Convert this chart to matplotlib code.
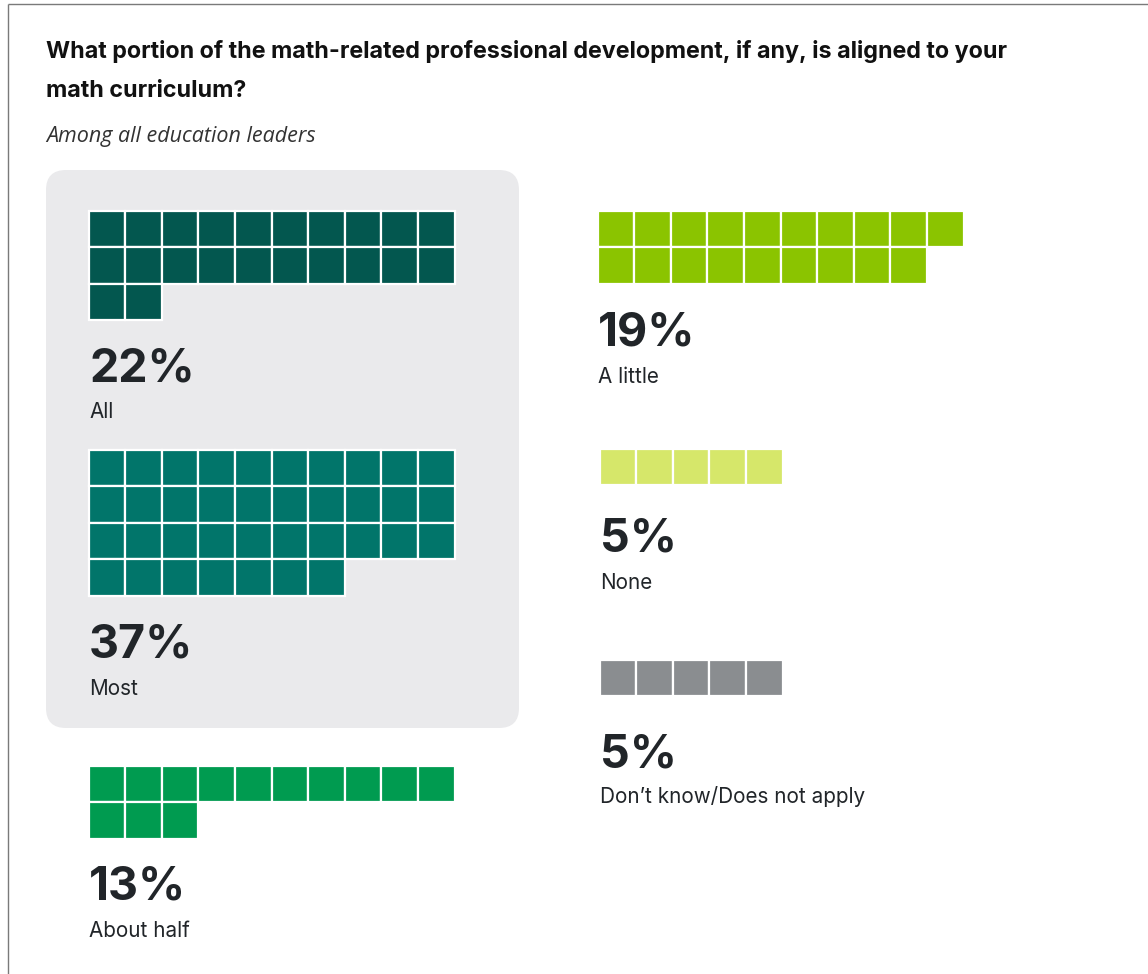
import matplotlib
matplotlib.use("Agg")
import matplotlib.pyplot as plt
from matplotlib.patches import Rectangle, FancyBboxPatch

# ---- data ----
categories = ["All", "Most", "About half", "A little", "None", "Don’t know/Does not apply"]
values = [22, 37, 13, 19, 5, 5]
colors = ["#03574F", "#01756A", "#009B50", "#8BC400", "#D6E76A", "#8A8D90"]
title_lines = ["What portion of the math-related professional development, if any, is aligned to your",
               "math curriculum?"]
subtitle = "Among all education leaders"

# ---- layout (pixel space) ----
W, H = 1148, 974
per_row = 10
pitch = 36.6
# (x of first square, y top of squares, percent baseline, label baseline)
anchors = [
    (88.5, 210.5, 381, 418),
    (88.5, 449.5, 657, 695),
    (88.5, 765.5, 900, 937),
    (597.5, 210.5, 346, 383),
    (599.5, 448.5, 552, 589),
    (599.5, 659.5, 767, 803),
]

fig = plt.figure(figsize=(W / 100, H / 100), dpi=100)
ax = fig.add_axes([0, 0, 1, 1])
ax.set_xlim(0, W)
ax.set_ylim(H, 0)
ax.axis("off")

# outer border (top and left)
ax.plot([8, W], [4, 4], color="#7a7a7a", lw=1.0, solid_capstyle="butt")
ax.plot([8, 8], [4, H], color="#7a7a7a", lw=1.0, solid_capstyle="butt")

# highlight box
box = FancyBboxPatch((46 + 20, 170 + 20), 473 - 40, 558 - 40,
                     boxstyle="round,pad=20", fc="#EAEAEC", ec="none", zorder=1)
ax.add_patch(box)

# title & subtitle
for txt, yb in zip(title_lines, [58, 97]):
    ax.text(46, yb, txt, fontsize=16.75, fontweight="bold", family="Inter",
            color="#111111", va="baseline", ha="left")
ax.text(46, 142, subtitle, fontsize=15.5, style="italic", family="Open Sans",
        color="#333333", va="baseline", ha="left")

for cat, val, col, (x0, y0, pb, lb) in zip(categories, values, colors, anchors):
    for i in range(val):
        r, c = divmod(i, per_row)
        ax.add_patch(Rectangle((x0 + c * pitch, y0 + r * pitch), pitch, pitch,
                               fc=col, ec="white", lw=1.6, zorder=3))
    ax.text(x0 + 0.5, pb, f"{val}%", fontsize=33.5, fontweight="bold", family="Inter",
            color="#212529", va="baseline", ha="left", zorder=4)
    ax.text(x0 + 0.5, lb, cat, fontsize=14.9, family="Inter", color="#212529",
            va="baseline", ha="left", zorder=4)

fig.savefig("out.png", dpi=100, facecolor="white")
